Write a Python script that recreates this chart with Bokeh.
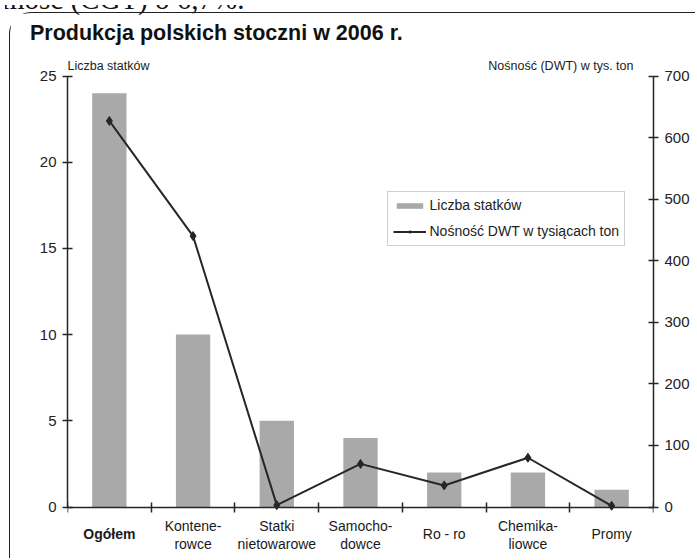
from bokeh.plotting import figure
from bokeh.models import (Range1d, LinearAxis, FixedTicker, Legend, LegendItem,
                          Label, Title, Div)
from bokeh.embed import file_html
from bokeh.resources import INLINE

# ---- data ----
categories = ["Ogółem", "Kontene-\nrowce", "Statki\nnietowarowe", "Samocho-\ndowce",
              "Ro - ro", "Chemika-\nliowce", "Promy"]
ship_counts = [24, 10, 5, 4, 2, 2, 1]
dwt_thousand_tons = [627, 440, 3, 70, 35, 80, 2]
left_ticks = [0, 5, 10, 15, 20, 25]
right_ticks = [0, 100, 200, 300, 400, 500, 600, 700]
title_text = "Produkcja polskich stoczni w 2006 r."
left_axis_title = "Liczba statków"
right_axis_title = "Nośność (DWT) w tys. ton"
bar_legend = "Liczba statków"
line_legend = "Nośność DWT w tysiącach ton"
page_text_above = "mość (CGT) o 6,7%."

FONT = "Liberation Sans"
DARK = "#262626"

n = len(categories)
xs = [i + 0.5 for i in range(n)]

# layout (pixels)
W, H = 686, 546
MB_LEFT, MB_RIGHT, MB_TOP, MB_BOTTOM = 57, 43, 41, 7
frame_h = H - MB_TOP - MB_BOTTOM
axis_px = 431.0                 # pixel height of 0..25 on the left axis
above_top_px = 452.5            # from zero line up to frame top
px_per_unit = axis_px / left_ticks[-1]
y_top = above_top_px / px_per_unit
y_bot = -(frame_h - above_top_px) / px_per_unit
ratio = right_ticks[-1] / left_ticks[-1]

p = figure(width=W, height=H, x_range=Range1d(0, n), y_range=Range1d(y_bot, y_top),
           output_backend="svg", toolbar_location=None,
           x_axis_type=None, y_axis_type=None,
           min_border_left=MB_LEFT, min_border_right=MB_RIGHT,
           min_border_top=MB_TOP, min_border_bottom=MB_BOTTOM)
p.extra_y_ranges = {"dwt": Range1d(y_bot * ratio, y_top * ratio)}
p.outline_line_color = None
p.xgrid.visible = False
p.ygrid.visible = False
p.background_fill_color = "white"
p.border_fill_color = "white"
p.styles = {"border-top": "1.5px solid #222222", "border-left": "1.5px solid #222222",
            "border-top-left-radius": "22px", "margin-top": "12px", "margin-left": "9px"}


def style_axis(ax):
    ax.axis_line_color = DARK
    ax.axis_line_width = 1.5
    ax.major_tick_line_color = DARK
    ax.major_tick_line_width = 1.5
    ax.major_tick_in = 5
    ax.major_tick_out = 5
    ax.minor_tick_line_color = None
    ax.major_label_text_font = FONT
    ax.major_label_text_font_size = "15px"
    ax.major_label_text_color = "#222222"
    ax.major_label_standoff = 6


left_axis = LinearAxis(ticker=FixedTicker(ticks=left_ticks), bounds=(0, left_ticks[-1]))
style_axis(left_axis)
p.add_layout(left_axis, "left")

right_axis = LinearAxis(y_range_name="dwt", ticker=FixedTicker(ticks=right_ticks),
                        bounds=(0, right_ticks[-1]))
style_axis(right_axis)
p.add_layout(right_axis, "right")

bottom_axis = LinearAxis(ticker=FixedTicker(ticks=list(range(n + 1))),
                         major_label_overrides={i: "" for i in range(n + 1)},
                         fixed_location=0, bounds=(0, n))
style_axis(bottom_axis)
bottom_axis.major_label_text_font_size = "0px"
bottom_axis.major_label_standoff = 0
p.add_layout(bottom_axis, "below")

bars = p.vbar(x=xs, top=ship_counts, width=0.41, fill_color="#a9a9a9", line_color=None)
line = p.line(xs, dwt_thousand_tons, y_range_name="dwt", line_color=DARK, line_width=2)
pts = p.scatter(xs, dwt_thousand_tons, y_range_name="dwt", marker="diamond", size=9,
                fill_color=DARK, line_color=DARK)

legend = Legend(items=[LegendItem(label=bar_legend, renderers=[bars]),
                       LegendItem(label=line_legend, renderers=[line, pts])],
                location=(319.5, frame_h - (above_top_px - (507 - 246))),
                orientation="vertical", padding=5, spacing=9,
                label_height=17, glyph_height=7, glyph_width=33, label_standoff=4,
                label_text_font=FONT, label_text_font_size="14px",
                label_text_color="#222222",
                border_line_color="#a0a0a0", border_line_width=1,
                background_fill_color="white", background_fill_alpha=1, margin=0)
p.add_layout(legend)

# title
p.add_layout(Title(text=title_text, align="left", offset=-37.5, standoff=15,
                   vertical_align="top",
                   text_font=FONT, text_font_style="bold", text_font_size="21.5px",
                   text_color="#111111"), "above")

# axis titles (anchored to the top of the axes)
p.add_layout(Label(x=0, y=left_ticks[-1], y_offset=10, text=left_axis_title,
                   text_font=FONT, text_font_size="12.5px", text_color="#222222",
                   text_baseline="alphabetic"))
p.add_layout(Label(x=n, y=left_ticks[-1], x_offset=-20, y_offset=10, text=right_axis_title,
                   text_font=FONT, text_font_size="12.5px", text_color="#222222",
                   text_align="right", text_baseline="alphabetic"))

# category labels (first one bold)
for i, cat in enumerate(categories):
    lines = cat.split("\n")
    offs = [-27] if len(lines) == 1 else [-19, -37]
    for ln, off in zip(lines, offs):
        p.add_layout(Label(x=xs[i], y=0, y_offset=off, text=ln,
                           text_font=FONT, text_font_size="14px",
                           text_font_style="bold" if i == 0 else "normal",
                           text_color="#1a1a1a", text_align="center",
                           text_baseline="alphabetic"))

# fragment of the page text above the chart (cut off at the top edge)
top_text = Div(text=('<div style="position:relative;top:-20px;left:-3px;'
                     'font-family:\'Liberation Serif\';font-size:29px;line-height:28px;'
                     'white-space:nowrap;color:#111111">' + page_text_above + '</div>'),
               width=400, height=11,
               styles={"position": "absolute", "top": "0px", "left": "0px",
                       "overflow": "hidden"})

open("out.html", "w").write(file_html([p, top_text], INLINE))
